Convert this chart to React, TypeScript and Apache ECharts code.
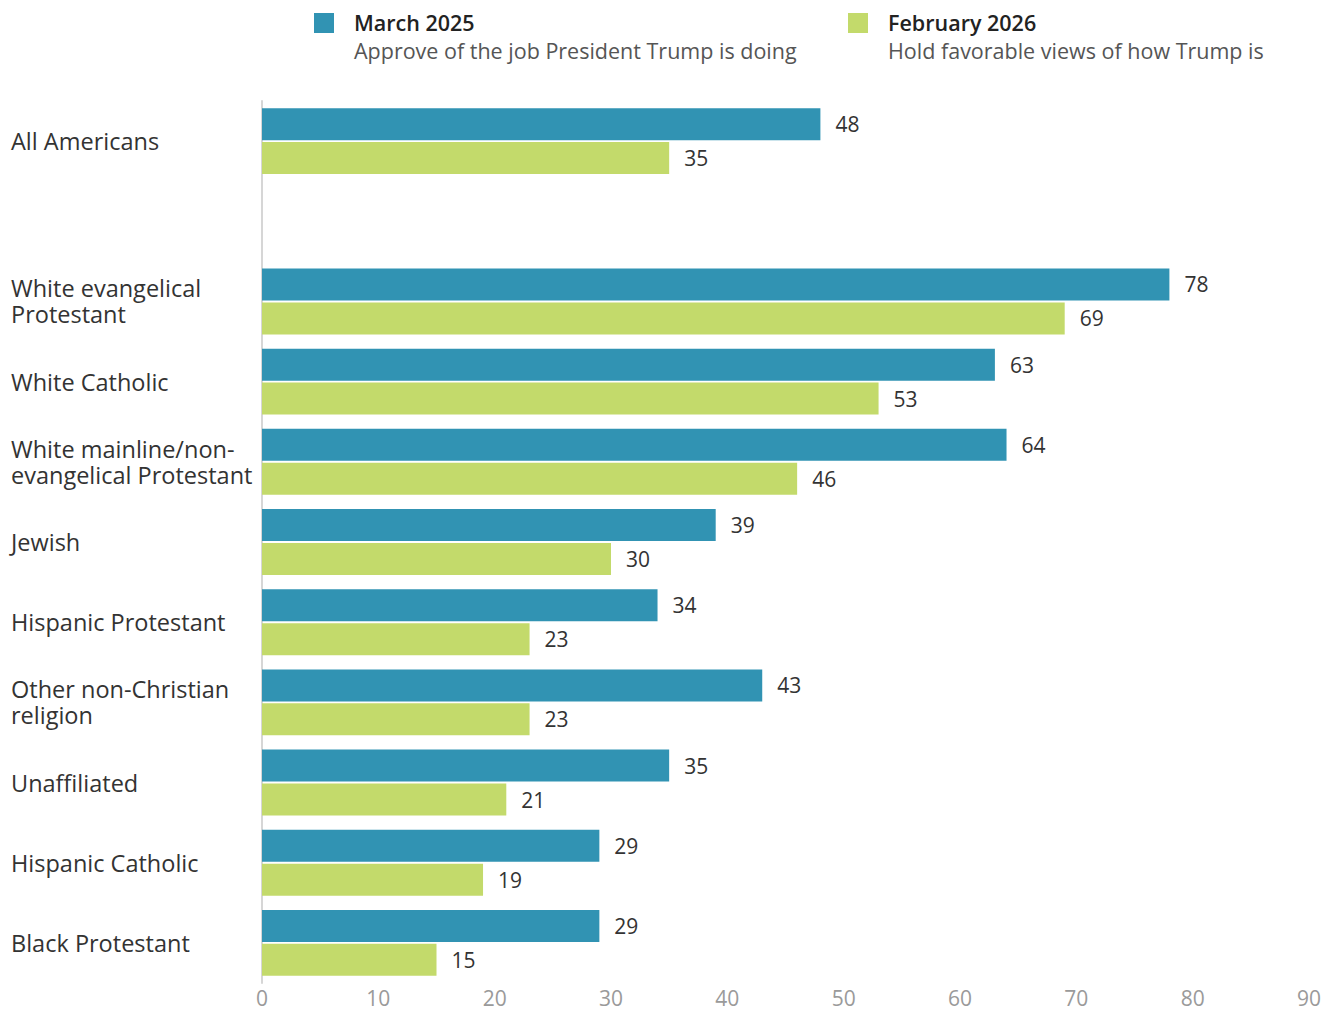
import React, { useEffect, useRef } from "react";
import * as echarts from "echarts";

const categories = [
  "All Americans",
  "",
  "White evangelical\nProtestant",
  "White Catholic",
  "White mainline/non-\nevangelical Protestant",
  "Jewish",
  "Hispanic Protestant",
  "Other non-Christian\nreligion",
  "Unaffiliated",
  "Hispanic Catholic",
  "Black Protestant",
];
const march2025 = [48, null, 78, 63, 64, 39, 34, 43, 35, 29, 29];
const february2026 = [35, null, 69, 53, 46, 30, 23, 23, 21, 19, 15];
const seriesNames = ["March 2025", "February 2026"];
const seriesSubtitles = [
  "Approve of the job President Trump is doing",
  "Hold favorable views of how Trump is",
];
const colors = ["#3193b3", "#c3da6b"];
const xTicks = [0, 10, 20, 30, 40, 50, 60, 70, 80, 90];

const FONT = "'Open Sans', sans-serif";

export default function App() {
  const ref = useRef<HTMLDivElement>(null);
  useEffect(() => {
    document.body.style.margin = "0";
    if (!ref.current) return;
    const chart = echarts.init(ref.current, undefined, { renderer: "svg" });
    const legendX = [314, 848];
    chart.setOption({
      animation: false,
      textStyle: { fontFamily: FONT },
      grid: { left: 262, right: 31, top: 101, bottom: 28, containLabel: false },
      xAxis: {
        type: "value",
        min: xTicks[0],
        max: xTicks[xTicks.length - 1],
        interval: 10,
        axisLine: { show: false },
        axisTick: { show: false },
        splitLine: { show: false },
        axisLabel: {
          color: "#9a9a9a",
          fontSize: 21,
          fontFamily: FONT,
          margin: 4,
        },
      },
      yAxis: {
        type: "category",
        data: categories,
        inverse: true,
        axisLine: { show: true, lineStyle: { color: "#d6d6d6", width: 2 } },
        axisTick: { show: false },
        axisLabel: {
          align: "left",
          margin: 251,
          color: "#333333",
          fontSize: 23.5,
          lineHeight: 26,
          fontFamily: FONT,
        },
      },
      series: [march2025, february2026].map((d, i) => ({
        type: "bar",
        name: seriesNames[i],
        data: d,
        barWidth: 32,
        barGap: "6%",
        itemStyle: { color: colors[i] },
        label: {
          show: true,
          position: "right",
          distance: 15,
          color: "#333333",
          fontSize: 21,
          fontFamily: FONT,
        },
      })),
      graphic: seriesNames.flatMap((name, i) => [
        {
          type: "rect",
          shape: { x: legendX[i], y: 13, width: 20, height: 20 },
          style: { fill: colors[i] },
        },
        {
          type: "text",
          x: legendX[i] + 40,
          y: 22,
          style: {
            text: name,
            fill: "#222222",
            font: `600 21.5px ${FONT}`,
            verticalAlign: "middle",
          },
        },
        {
          type: "text",
          x: legendX[i] + 40,
          y: 50,
          style: {
            text: seriesSubtitles[i],
            fill: "#555555",
            font: `21.5px ${FONT}`,
            verticalAlign: "middle",
          },
        },
      ]),
    });
    return () => chart.dispose();
  }, []);
  return <div ref={ref} style={{ width: 1340, height: 1011 }} />;
}
